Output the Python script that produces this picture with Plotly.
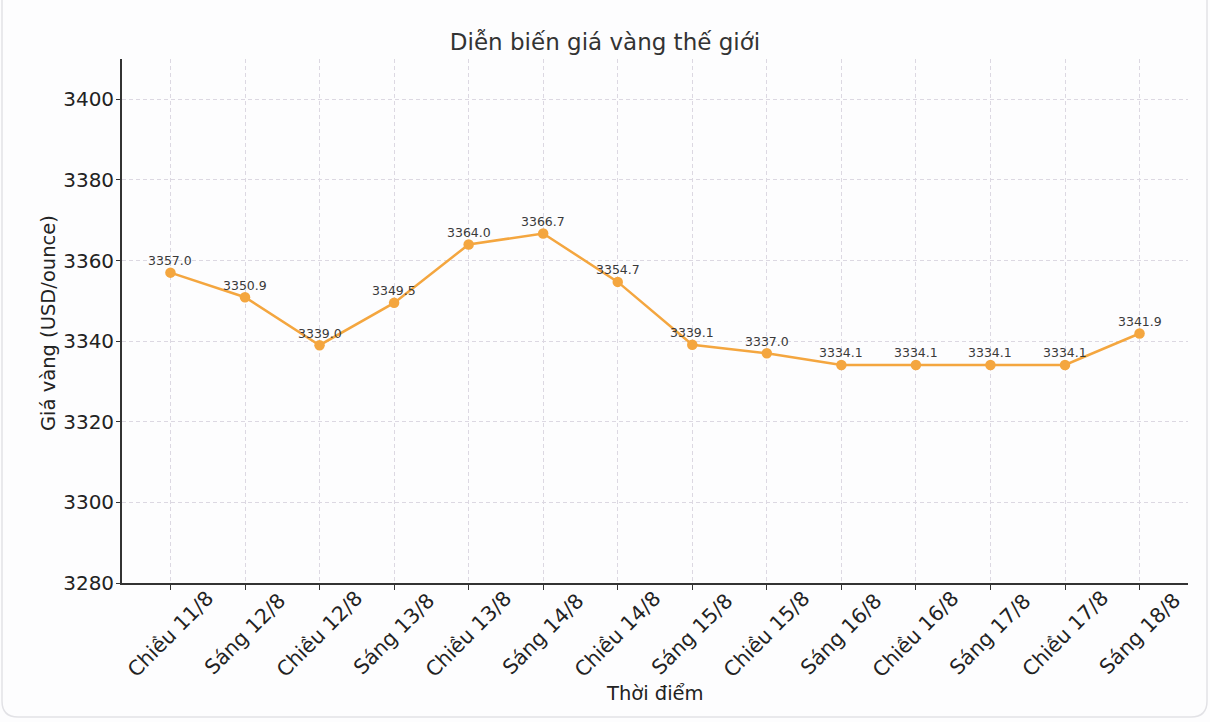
import plotly.graph_objects as go

# dữ liệu giá vàng thế giới
thoi_diem = ["Chiều 11/8", "Sáng 12/8", "Chiều 12/8", "Sáng 13/8", "Chiều 13/8",
             "Sáng 14/8", "Chiều 14/8", "Sáng 15/8", "Chiều 15/8", "Sáng 16/8",
             "Chiều 16/8", "Sáng 17/8", "Chiều 17/8", "Sáng 18/8"]
gia_vang = [3357.0, 3350.9, 3339.0, 3349.5, 3364.0, 3366.7, 3354.7,
            3339.1, 3337.0, 3334.1, 3334.1, 3334.1, 3334.1, 3341.9]
y_ticks = [3280, 3300, 3320, 3340, 3360, 3380, 3400]

W, H = 1210, 722
L, R, T, B = 122, 22, 59, 139
pw, ph = W - L - R, H - T - B

def px_x(p):
    return (p - L) / pw

def px_y(p):
    return (H - B - p) / ph

FONT = "DejaVu Sans"
cam = "#f4a63f"

x_idx = list(range(len(thoi_diem)))

fig = go.Figure()
fig.add_trace(go.Scatter(
    x=x_idx, y=gia_vang,
    mode="lines+markers",
    line=dict(color=cam, width=2.5),
    marker=dict(color=cam, size=10.5),
    hoverinfo="x+y",
))

# nhãn giá trị phía trên mỗi điểm
for i, v in zip(x_idx, gia_vang):
    fig.add_annotation(x=i, y=v, xref="x", yref="y", text=f"{v:.1f}",
                       showarrow=False, yshift=12, xanchor="center", yanchor="middle",
                       font=dict(family=FONT, size=12.5, color="#3a3a3a"))

# nhãn trục x xoay 45 độ, căn giữa tại vạch chia
for i, lab in zip(x_idx, thoi_diem):
    fig.add_annotation(x=i, y=px_y(634), xref="x", yref="paper",
                       text=lab, textangle=-45, showarrow=False,
                       xanchor="center", yanchor="middle",
                       font=dict(family=FONT, size=20.5, color="#222"))

fig.add_annotation(x=0.5, y=px_y(693), xref="paper", yref="paper",
                   text="Thời điểm", showarrow=False,
                   xanchor="center", yanchor="middle",
                   font=dict(family=FONT, size=19.5, color="#222"))
fig.add_annotation(x=px_x(48), y=px_y(323), xref="paper", yref="paper",
                   text="Giá vàng (USD/ounce)", textangle=-90, showarrow=False,
                   xanchor="center", yanchor="middle",
                   font=dict(family=FONT, size=19.5, color="#222"))

# khung bo góc bên ngoài
r = 16
x0, x1, y0, y1 = 2, 1207, -20, 717
path = (f"M {px_x(x0)},{px_y(y0)} L {px_x(x0)},{px_y(y1 - r)} "
        f"Q {px_x(x0)},{px_y(y1)} {px_x(x0 + r)},{px_y(y1)} "
        f"L {px_x(x1 - r)},{px_y(y1)} "
        f"Q {px_x(x1)},{px_y(y1)} {px_x(x1)},{px_y(y1 - r)} "
        f"L {px_x(x1)},{px_y(y0)}")
fig.add_shape(type="path", path=path, xref="paper", yref="paper",
              line=dict(color="#e2e2e6", width=1.5), layer="below")

fig.update_layout(
    width=W, height=H,
    margin=dict(l=L, r=R, t=T, b=B),
    paper_bgcolor="#fdfdfe",
    plot_bgcolor="#fdfdfe",
    showlegend=False,
    title=dict(text="Diễn biến giá vàng thế giới", x=px_x(655), xanchor="center",
               y=1 - 42 / H, yanchor="middle",
               font=dict(family=FONT, size=23, color="#333")),
    font=dict(family=FONT),
)
fig.update_xaxes(
    range=[-0.65, len(thoi_diem) - 1 + 0.65],
    tickmode="array", tickvals=x_idx, showticklabels=False,
    ticks="outside", ticklen=5, tickwidth=1.2, tickcolor="#333",
    showline=True, linecolor="#333", linewidth=1.8,
    showgrid=True, gridcolor="#dcd8e2", griddash="4px,3px", gridwidth=1,
    zeroline=False,
)
fig.update_yaxes(
    range=[3280, 3410],
    tickmode="array", tickvals=y_ticks,
    tickfont=dict(family=FONT, size=20, color="#222"),
    ticks="outside", ticklen=4, tickwidth=1.2, tickcolor="#333",
    ticklabelstandoff=-2,
    showline=True, linecolor="#333", linewidth=1.8,
    showgrid=True, gridcolor="#dcd8e2", griddash="4px,3px", gridwidth=1,
    zeroline=False,
)

fig.write_html("out.html", config={"displayModeBar": False},
               post_script="document.body.style.margin='0';")
